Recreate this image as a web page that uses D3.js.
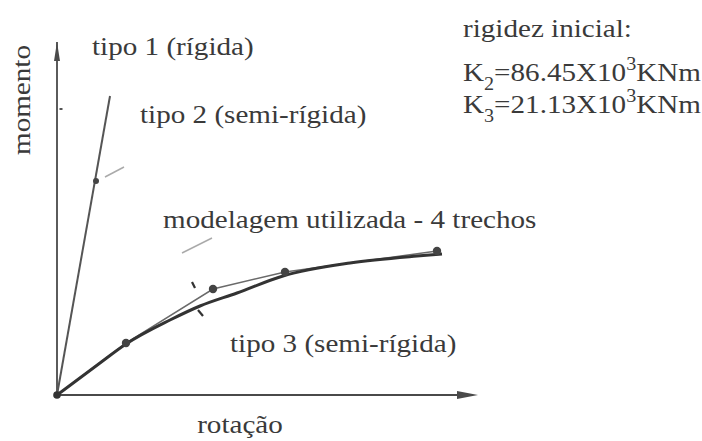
<!DOCTYPE html>
<html>
<head>
<meta charset="utf-8">
<script src="https://cdn.jsdelivr.net/npm/d3@7"></script>
<style>
  html, body { margin: 0; padding: 0; background: #fff; }
  svg { display: block; }
  text { font-family: "Liberation Serif", "Times New Roman", serif; fill: #3a3a3a; }
</style>
</head>
<body>
<svg id="chart" width="702" height="441"></svg>
<script>
// Moment–rotation curves of beam-column connections (arbitrary units)
const axisMaxRot = 42.1;
const axisMaxMom = 35.3;

// tipo 2 (semi-rígida): initial stiffness line
const tipo2Rot = [0, 5.3];
const tipo2Mom = [0, 29.9];
const tipo2Marker = [3.9, 21.4];

// tipo 3 (semi-rígida): non-linear curve
const tipo3Rot = [0, 4.3, 6.9, 11.3, 14.3, 18.0, 22.6, 29.3, 36.0, 38.5];
const tipo3Mom = [0, 3.2, 5.1, 7.5, 8.9, 10.2, 11.9, 13.2, 13.9, 14.1];

// modelagem utilizada - 4 trechos (multilinear model)
const modelRot = [0, 6.9, 15.6, 22.8, 38.0];
const modelMom = [0, 5.2, 10.6, 12.3, 14.4];

// leader lines & tick marks (rotation/moment coordinates)
const leaderTipo2 = [[4.8, 21.8], [6.7, 22.8]];
const leaderModel = [[12.5, 14.2], [15.5, 15.7]];
const markTipo1 = [[0.25, 28.6], [0.55, 28.6]];
const ticksModel = [
  [[13.5, 11.3], [13.8, 10.7]],
  [[14.1, 8.5], [14.6, 7.9]]
];

const labels = [
  { text: "tipo 1 (rígida)", x: 92, y: 55 },
  { text: "tipo 2 (semi-rígida)", x: 140, y: 123 },
  { text: "modelagem utilizada - 4 trechos", x: 163, y: 228 },
  { text: "tipo 3 (semi-rígida)", x: 230, y: 352 },
  { text: "rigidez inicial:", x: 463, y: 37 }
];
const stiffness = [
  { sub: "2", value: "=86.45X10", unit: "KNm", y: 81 },
  { sub: "3", value: "=21.13X10", unit: "KNm", y: 113 }
];

const svg = d3.select("#chart");
const x = d3.scaleLinear().domain([0, axisMaxRot]).range([57, 478]);
const y = d3.scaleLinear().domain([0, axisMaxMom]).range([395, 42]);
const sx = 1.12; // horizontal stretch of the serif face
const fs = 26;

const line = d3.line().x(d => x(d[0])).y(d => y(d[1]));
const curve = d3.line().x(d => x(d[0])).y(d => y(d[1])).curve(d3.curveMonotoneX);

// axes
svg.append("line").attr("x1", x(0)).attr("y1", y(0)).attr("x2", x(axisMaxRot) - 12).attr("y2", y(0))
  .attr("stroke", "#4a4a4a").attr("stroke-width", 1.8);
svg.append("path")
  .attr("d", `M${x(axisMaxRot)},${y(0)} L${x(axisMaxRot) - 21},${y(0) - 4} L${x(axisMaxRot) - 21},${y(0) + 4} Z`)
  .attr("fill", "#4a4a4a");
svg.append("line").attr("x1", x(0)).attr("y1", y(0)).attr("x2", x(0)).attr("y2", y(axisMaxMom))
  .attr("stroke", "#4a4a4a").attr("stroke-width", 1.8);
svg.append("path")
  .attr("d", `M${x(0)},${y(axisMaxMom)} L${x(0) - 3},${y(axisMaxMom) + 19} L${x(0) + 3},${y(axisMaxMom) + 19} Z`)
  .attr("fill", "#4a4a4a");

// tipo 2 line
svg.append("path").attr("d", line(tipo2Rot.map((r, i) => [r, tipo2Mom[i]])))
  .attr("fill", "none").attr("stroke", "#555").attr("stroke-width", 2);
svg.append("circle").attr("cx", x(tipo2Marker[0])).attr("cy", y(tipo2Marker[1])).attr("r", 3).attr("fill", "#444");

// multilinear model
const modelPts = modelRot.map((r, i) => [r, modelMom[i]]);
svg.append("path").attr("d", line(modelPts))
  .attr("fill", "none").attr("stroke", "#6a6a6a").attr("stroke-width", 1.5);

// tipo 3 curve
svg.append("path").attr("d", curve(tipo3Rot.map((r, i) => [r, tipo3Mom[i]])))
  .attr("fill", "none").attr("stroke", "#333").attr("stroke-width", 3);

svg.selectAll("circle.node").data(modelPts.slice(1)).enter().append("circle")
  .attr("class", "node").attr("cx", d => x(d[0])).attr("cy", d => y(d[1])).attr("r", 4.2).attr("fill", "#444");
svg.append("circle").attr("cx", x(0)).attr("cy", y(0)).attr("r", 3.8).attr("fill", "#333");

// leaders and ticks
svg.append("path").attr("d", line(leaderTipo2)).attr("stroke", "#aaa").attr("stroke-width", 1.5).attr("fill", "none");
svg.append("path").attr("d", line(leaderModel)).attr("stroke", "#aaa").attr("stroke-width", 1.5).attr("fill", "none");
svg.append("path").attr("d", line(markTipo1)).attr("stroke", "#555").attr("stroke-width", 2).attr("fill", "none");
ticksModel.forEach(t => svg.append("path").attr("d", line(t)).attr("stroke", "#333").attr("stroke-width", 2.2).attr("fill", "none"));

// labels
labels.forEach(l => {
  svg.append("text").attr("transform", `translate(${l.x},${l.y}) scale(${sx},1)`)
    .attr("font-size", fs).text(l.text);
});
stiffness.forEach(s => {
  const t = svg.append("text").attr("transform", `translate(463,${s.y}) scale(${sx},1)`).attr("font-size", fs);
  t.append("tspan").text("K");
  t.append("tspan").attr("font-size", 18).attr("dy", 9).text(s.sub);
  t.append("tspan").attr("dy", -9).text(s.value);
  t.append("tspan").attr("font-size", 18).attr("dy", -11).text("3");
  t.append("tspan").attr("dy", 11).text(s.unit);
});

// axis titles
svg.append("text").attr("transform", `translate(240,433) scale(${sx},1)`)
  .attr("text-anchor", "middle").attr("font-size", fs).text("rotação");
svg.append("text").attr("transform", `translate(30,100) rotate(-90) scale(${sx},1)`)
  .attr("text-anchor", "middle").attr("font-size", fs).text("momento");
</script>
</body>
</html>
